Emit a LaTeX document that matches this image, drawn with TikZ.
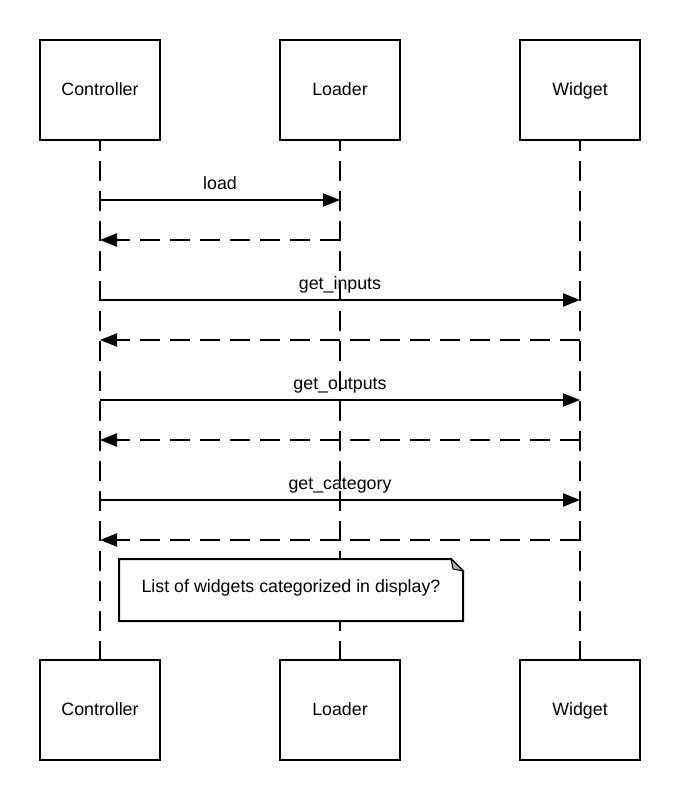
\documentclass[tikz,border=0pt]{standalone}
\usepackage{fontspec}
\setmainfont{Liberation Sans}
\usetikzlibrary{arrows.meta}

\begin{document}
\begin{tikzpicture}[x=1pt,y=-1pt,line width=2pt,
    font=\fontsize{17.8}{21}\selectfont,
    actor/.style={draw,fill=white,minimum width=120pt,minimum height=100pt,inner sep=0pt,text height=13pt,text depth=2pt},
    msg/.style={text height=13pt,text depth=4pt,inner sep=6pt},
    life/.style={dash pattern=on 20pt off 10pt,dash phase=10pt},
    call/.style={-{Triangle[length=17pt,width=13pt]}},
    reply/.style={-{Triangle[length=17pt,width=13pt]},dash pattern=on 20pt off 10pt}]
          \useasboundingbox (0,0) rectangle (680,800);

          \node[actor] (ctrl_top) at (100,90) {Controller};
          \node[actor] (load_top) at (340,90) {Loader};
          \node[actor] (wid_top) at (580,90) {Widget};
          \node[actor] (ctrl_bot) at (100,710) {Controller};
          \node[actor] (load_bot) at (340,710) {Loader};
          \node[actor] (wid_bot) at (580,710) {Widget};

          \draw[life] (ctrl_top) -- (ctrl_bot);
          \draw[life] (load_top) -- (load_bot);
          \draw[life] (wid_top) -- (wid_bot);

          % points on the lifelines
          \coordinate (c_1) at (100,200);
          \coordinate (l_1) at (340,200);
          \coordinate (c_2) at (100,240);
          \coordinate (l_2) at (340,240);
          \coordinate (c_3) at (100,300);
          \coordinate (w_3) at (580,300);
          \coordinate (c_4) at (100,340);
          \coordinate (w_4) at (580,340);
          \coordinate (c_5) at (100,400);
          \coordinate (w_5) at (580,400);
          \coordinate (c_6) at (100,440);
          \coordinate (w_6) at (580,440);
          \coordinate (c_7) at (100,500);
          \coordinate (w_7) at (580,500);
          \coordinate (c_8) at (100,540);
          \coordinate (w_8) at (580,540);

          \draw[call] (c_1) -- node[msg, midway, above] {load} (l_1);
          \draw[reply] (l_2) -- (c_2);
          \draw[call] (c_3) -- node[msg, midway, above] {get\_inputs} (w_3);
          \draw[reply] (w_4) -- (c_4);
          \draw[call] (c_5) -- node[msg, midway, above] {get\_outputs} (w_5);
          \draw[reply] (w_6) -- (c_6);
          \draw[call] (c_7) -- node[msg, midway, above] {get\_category} (w_7);
          \draw[reply] (w_8) -- (c_8);

          % note
          \node[fill=white,minimum width=342pt,minimum height=60pt,inner sep=0pt,text height=13pt,text depth=8pt] (note) at (291,590) {List of widgets categorized in display?};
          \draw (note.north west) -- ([xshift=-12pt]note.north east) -- ([yshift=-12pt]note.north east) -- (note.south east) -- (note.south west) -- cycle;
          \draw[fill=gray!60,line width=1pt] ([xshift=-12pt]note.north east) -- ([xshift=-10pt,yshift=-10pt]note.north east) -- ([yshift=-12pt]note.north east) -- cycle;
        \end{tikzpicture}
\end{document}
